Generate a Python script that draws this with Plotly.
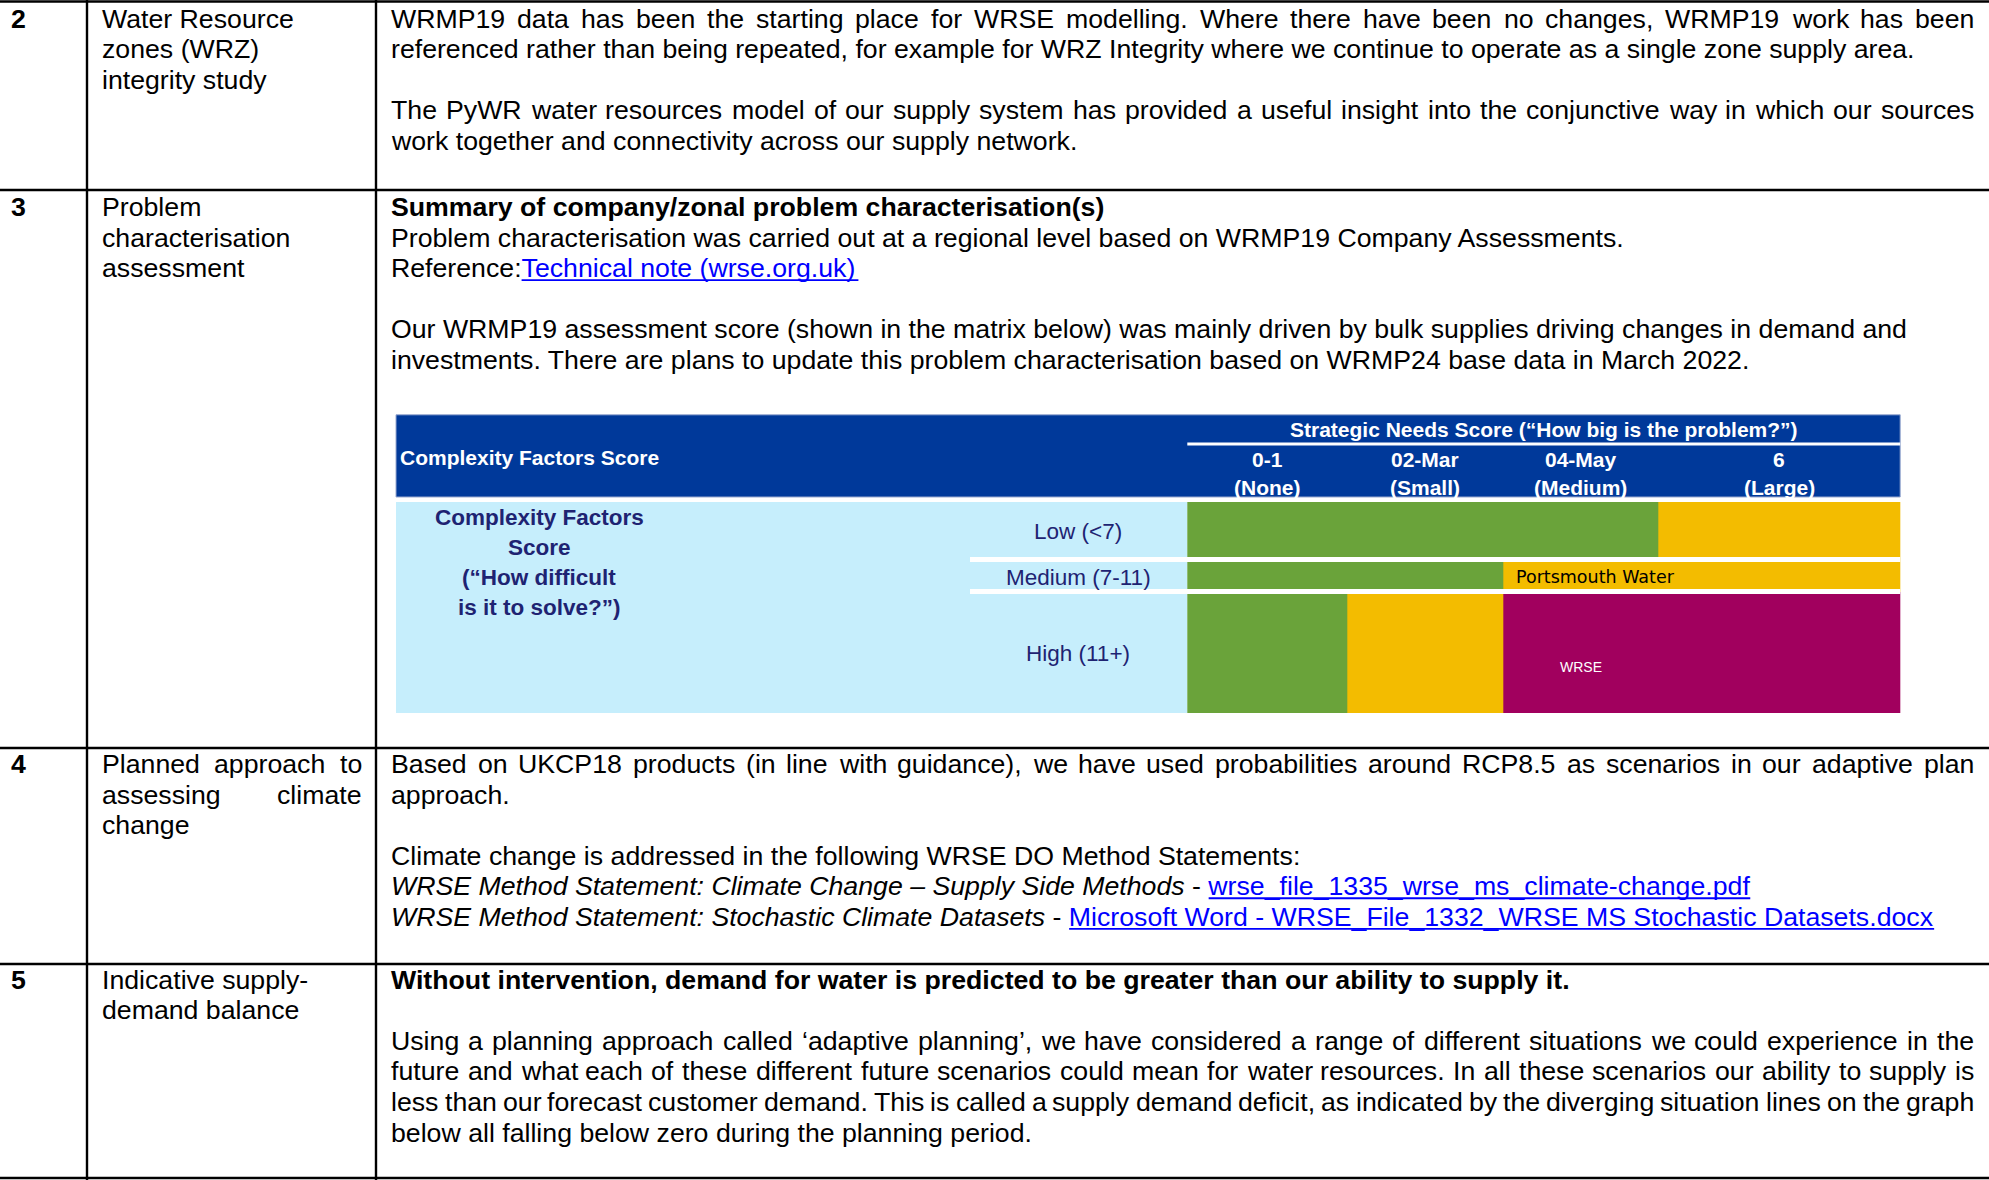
import plotly.graph_objects as go

# ---------------- data ----------------
row_numbers = ["2", "3", "4", "5"]

row_titles = [
    ["Water Resource", "zones (WRZ)", "integrity study"],
    ["Problem", "characterisation", "assessment"],
    ["Planned approach to", "assessing climate", "change"],
    ["Indicative supply-", "demand balance"],
]
row_title_justified = [
    [False, False, False],
    [False, False, False],
    [True, True, False],
    [False, False],
]

row_content = [
    [
        (0, "j", [("n", "WRMP19 data has been the starting place for WRSE modelling. Where there have been no changes, WRMP19 work has been")]),
        (1, "l", [("n", "referenced rather than being repeated, for example for WRZ Integrity where we continue to operate as a single zone supply area.")]),
        (3, "j", [("n", "The PyWR water resources model of our supply system has provided a useful insight into the conjunctive way in which our sources")]),
        (4, "l", [("n", "work together and connectivity across our supply network.")]),
    ],
    [
        (0, "l", [("b", "Summary of company/zonal problem characterisation(s)")]),
        (1, "l", [("n", "Problem characterisation was carried out at a regional level based on WRMP19 Company Assessments.")]),
        (2, "l", [("n", "Reference:"), ("a", "Technical note (wrse.org.uk)")]),
        (4, "l", [("n", "Our WRMP19 assessment score (shown in the matrix below) was mainly driven by bulk supplies driving changes in demand and")]),
        (5, "l", [("n", "investments. There are plans to update this problem characterisation based on WRMP24 base data in March 2022.")]),
    ],
    [
        (0, "j", [("n", "Based on UKCP18 products (in line with guidance), we have used probabilities around RCP8.5 as scenarios in our adaptive plan")]),
        (1, "l", [("n", "approach.")]),
        (3, "l", [("n", "Climate change is addressed in the following WRSE DO Method Statements:")]),
        (4, "l", [("i", "WRSE Method Statement: Climate Change \u2013 Supply Side Methods"), ("n", " - "), ("a", "wrse_file_1335_wrse_ms_climate-change.pdf")]),
        (5, "l", [("i", "WRSE Method Statement: Stochastic Climate Datasets"), ("n", " - "), ("a", "Microsoft Word - WRSE_File_1332_WRSE MS Stochastic Datasets.docx")]),
    ],
    [
        (0, "l", [("b", "Without intervention, demand for water is predicted to be greater than our ability to supply it.")]),
        (2, "j", [("n", "Using a planning approach called \u2018adaptive planning\u2019, we have considered a range of different situations we could experience in the")]),
        (3, "j", [("n", "future and what each of these different future scenarios could mean for water resources. In all these scenarios our ability to supply is")]),
        (4, "j", [("n", "less than our forecast customer demand. This is called a supply demand deficit, as indicated by the diverging situation lines on the graph")]),
        (5, "l", [("n", "below all falling below zero during the planning period.")]),
    ],
]

# problem characterisation matrix
strategic_title = "Strategic Needs Score (\u201cHow big is the problem?\u201d)"
complexity_header = "Complexity Factors Score"
need_cols = ["0-1", "02-Mar", "04-May", "6"]
need_subs = ["(None)", "(Small)", "(Medium)", "(Large)"]
complexity_rows = ["Low (&lt;7)", "Medium (7-11)", "High (11+)"]
complexity_title = ["Complexity Factors", "Score", "(\u201cHow difficult", "is it to solve?\u201d)"]
cell_rating = [
    [0, 0, 0, 1],
    [0, 0, 1, 1],
    [0, 1, 2, 2],
]
cell_labels = [(1, 2, "Portsmouth Water"), (2, 2, "WRSE")]

# ---------------- layout constants ----------------
W, H = 1989, 1180
FONT = "Liberation Sans, Arial, Helvetica, sans-serif"
FS = 26.7
LH = 30.6
COL_X = [11, 101.5, 391]
RIGHT2 = 361.5
RIGHT3 = 1974
ROW_FIRST_Y = [18.5, 207, 764, 979.5]
H_LINES = [1.5, 190, 748, 964, 1178]
V_LINES = [87, 376]
LINK = "#0000FF"

NAVY = "#1E2372"
HEAD = "#00399A"
LIGHT = "#C6EEFC"
GREEN = "#6AA33A"
AMBER = "#F3BC00"
MAG = "#A1005E"

MX_L, MX_C, MX_R = 396, 1187.3, 1900.2
HEAD_T, HEAD_B = 414.8, 497
BODY_T, BODY_B = 502, 713
COL_EDGES = [1187.3, 1347.5, 1503.2, 1658.0, 1900.2]
ROW_EDGES = [502, 559.5, 591.5, 713]
GAPS = [(557, 562), (589, 594)]

# Arial / Liberation Sans advance widths (1/1000 em)
AW = {' ': 278, '!': 278, '"': 355, '#': 556, '$': 556, '%': 889, '&': 667, "'": 191,
      '(': 333, ')': 333, '*': 389, '+': 584, ',': 278, '-': 333, '.': 278, '/': 278,
      ':': 278, ';': 278, '<': 584, '=': 584, '>': 584, '?': 556, '@': 1015, '[': 278,
      '\\': 278, ']': 278, '^': 469, '_': 556, '`': 333, '{': 334, '|': 260, '}': 334,
      '~': 584, '\u2018': 222, '\u2019': 222, '\u201c': 333, '\u201d': 333, '\u2013': 556}
for d in "0123456789":
    AW[d] = 556
for ch, w in zip("ABCDEFGHIJKLMNOPQRSTUVWXYZ",
                 [667, 667, 722, 722, 667, 611, 778, 722, 278, 500, 667, 556, 833, 722, 778,
                  667, 778, 722, 667, 611, 722, 667, 944, 667, 667, 611]):
    AW[ch] = w
for ch, w in zip("abcdefghijklmnopqrstuvwxyz",
                 [556, 556, 500, 556, 556, 278, 556, 556, 222, 222, 500, 222, 833, 556, 556,
                  556, 556, 333, 500, 278, 556, 500, 722, 500, 500, 500]):
    AW[ch] = w


def tw(s, size=FS):
    return sum(AW.get(c, 556) for c in s) / 1000.0 * size


def esc(s):
    return s.replace("&", "&amp;").replace("<", "&lt;").replace(">", "&gt;")


annotations = []
shapes = []


def ann(x, y, text, xanchor="left", size=FS, color="black", family=FONT):
    annotations.append(dict(
        x=x, y=y, xref="x", yref="y", text=text, showarrow=False,
        xanchor=xanchor, yanchor="middle", borderpad=0, borderwidth=0,
        font=dict(family=family, size=size, color=color)))


def justified(text, L, R, y):
    words = text.split(" ")
    ws = [tw(w) for w in words]
    n = len(words)
    gap = (R - L - sum(ws)) / (n - 1) if n > 1 else 0
    x = L
    for i, w in enumerate(words):
        if i == n - 1 and n > 1:
            ann(R, y, esc(w), xanchor="right")
        else:
            ann(x, y, esc(w))
        x += ws[i] + gap


# ---------------- table text ----------------
for r in range(4):
    y0 = ROW_FIRST_Y[r]
    ann(COL_X[0], y0, "<b>" + row_numbers[r] + "</b>")
    for k, line in enumerate(row_titles[r]):
        y = y0 + k * LH
        if row_title_justified[r][k]:
            justified(line, COL_X[1], RIGHT2, y)
        else:
            ann(COL_X[1], y, esc(line))
    for idx, align, segs in row_content[r]:
        y = y0 + idx * LH
        if align == "j":
            justified("".join(t for _, t in segs), COL_X[2], RIGHT3, y)
            continue
        html = ""
        xpos = COL_X[2]
        for fmt, t in segs:
            if fmt == "b":
                html += "<b>" + esc(t) + "</b>"
            elif fmt == "i":
                html += "<i>" + esc(t) + "</i>"
            elif fmt == "a":
                html += "<span style='color:%s'>" % LINK + esc(t) + "</span>"
                ul = y + 0.347 * FS + 2.6
                shapes.append(dict(type="line", xref="x", yref="y", x0=xpos, x1=xpos + tw(t),
                                   y0=ul, y1=ul, line=dict(color=LINK, width=1.8), layer="above"))
            else:
                html += esc(t)
            xpos += tw(t)
        ann(COL_X[2], y, html)

# table rules
for yl in H_LINES:
    shapes.append(dict(type="line", xref="x", yref="y", x0=0, x1=W, y0=yl, y1=yl,
                       line=dict(color="black", width=2.4), layer="above"))
for xl in V_LINES:
    shapes.append(dict(type="line", xref="x", yref="y", x0=xl, x1=xl, y0=0, y1=H,
                       line=dict(color="black", width=2.4), layer="above"))

# ---------------- matrix ----------------
shapes.append(dict(type="rect", xref="x", yref="y", x0=MX_L, x1=MX_R, y0=HEAD_T, y1=HEAD_B,
                   fillcolor=HEAD, line=dict(color="#9AAAD0", width=1), layer="below"))
shapes.append(dict(type="rect", xref="x", yref="y", x0=MX_L, x1=MX_C, y0=BODY_T, y1=BODY_B,
                   fillcolor=LIGHT, line=dict(width=0), layer="below"))
shapes.append(dict(type="line", xref="x", yref="y", x0=MX_C, x1=MX_R, y0=444, y1=444,
                   line=dict(color="white", width=3), layer="above"))
for g0, g1 in GAPS:
    shapes.append(dict(type="rect", xref="x", yref="y", x0=970, x1=MX_R, y0=g0, y1=g1,
                       fillcolor="white", line=dict(width=0), layer="above"))

HF = 21
ann((MX_C + MX_R) / 2, 429, "<b>" + esc(strategic_title) + "</b>", xanchor="center", size=HF, color="white")
ann(399.6, 457, "<b>" + complexity_header + "</b>", size=HF, color="white")
for j in range(4):
    cx = (COL_EDGES[j] + COL_EDGES[j + 1]) / 2
    ann(cx, 459, "<b>" + need_cols[j] + "</b>", xanchor="center", size=HF, color="white")
    ann(cx, 487, "<b>" + need_subs[j] + "</b>", xanchor="center", size=HF, color="white")
for k, t in enumerate(complexity_title):
    ann(539, 517.5 + k * 30, "<b>" + esc(t) + "</b>", xanchor="center", size=22.5, color=NAVY)
row_label_y = [531.5, 577, 653]
for i, t in enumerate(complexity_rows):
    ann(1078, row_label_y[i], t, xanchor="center", size=22.5, color=NAVY)

for (ri, cj, t) in cell_labels:
    if ri == 1:
        ann(COL_EDGES[cj] + 12.5, 577, esc(t), size=17.5, color="black", family="DejaVu Sans, sans-serif")
    else:
        ann((COL_EDGES[cj] + COL_EDGES[cj + 1]) / 2, 667, esc(t), xanchor="center", size=14, color="white")

heat = go.Heatmap(
    z=cell_rating, x=COL_EDGES, y=ROW_EDGES,
    colorscale=[[0, GREEN], [0.5, AMBER], [1, MAG]], zmin=0, zmax=2,
    showscale=False, hoverinfo="skip", zsmooth=False,
)

fig = go.Figure(heat)
fig.update_layout(
    width=W, height=H, margin=dict(l=0, r=0, t=0, b=0, pad=0),
    paper_bgcolor="white", plot_bgcolor="white",
    xaxis=dict(range=[0, W], visible=False, fixedrange=True, domain=[0, 1]),
    yaxis=dict(range=[H, 0], visible=False, fixedrange=True, domain=[0, 1]),
    annotations=annotations, shapes=shapes, showlegend=False,
)
fig.write_html("out.html", config={"displayModeBar": False},
               post_script="document.body.style.margin='0';document.body.style.overflow='hidden';")
